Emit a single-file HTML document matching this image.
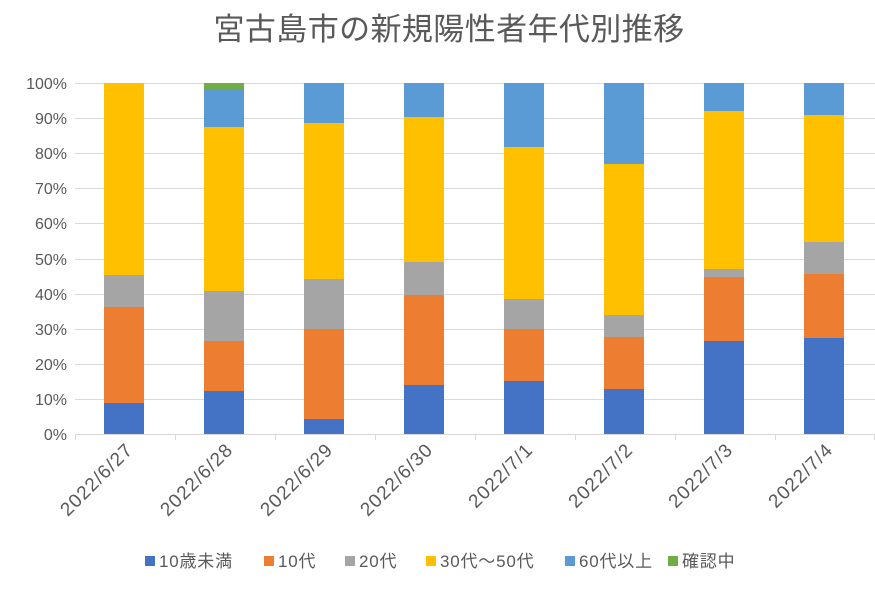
<!DOCTYPE html>
<html><head><meta charset="utf-8"><style>body{margin:0;background:#fff}</style></head>
<body>
<svg width="875" height="587" xmlns="http://www.w3.org/2000/svg" font-family="Liberation Sans, Noto Sans CJK JP, sans-serif">
<rect width="875" height="587" fill="#fff"/>
<text x="449" y="40" font-size="31" fill="#595959" text-anchor="middle" letter-spacing="0.4">宮古島市の新規陽性者年代別推移</text>
<g stroke="#d9d9d9" stroke-width="1">
<line x1="75" x2="875" y1="83.5" y2="83.5"/><line x1="75" x2="875" y1="118.5" y2="118.5"/><line x1="75" x2="875" y1="153.5" y2="153.5"/><line x1="75" x2="875" y1="188.5" y2="188.5"/><line x1="75" x2="875" y1="223.5" y2="223.5"/><line x1="75" x2="875" y1="259.5" y2="259.5"/><line x1="75" x2="875" y1="294.5" y2="294.5"/><line x1="75" x2="875" y1="329.5" y2="329.5"/><line x1="75" x2="875" y1="364.5" y2="364.5"/><line x1="75" x2="875" y1="399.5" y2="399.5"/><line x1="75" x2="875" y1="434.5" y2="434.5"/>
<line x1="75.5" x2="75.5" y1="434" y2="440"/><line x1="175.5" x2="175.5" y1="434" y2="440"/><line x1="275.5" x2="275.5" y1="434" y2="440"/><line x1="375.5" x2="375.5" y1="434" y2="440"/><line x1="475.5" x2="475.5" y1="434" y2="440"/><line x1="575.5" x2="575.5" y1="434" y2="440"/><line x1="675.5" x2="675.5" y1="434" y2="440"/><line x1="775.5" x2="775.5" y1="434" y2="440"/><line x1="874.5" x2="874.5" y1="434" y2="440"/>
</g>
<g font-size="16" fill="#595959" text-anchor="end">
<text x="67" y="89">100%</text><text x="67" y="124">90%</text><text x="67" y="159">80%</text><text x="67" y="194">70%</text><text x="67" y="229">60%</text><text x="67" y="265">50%</text><text x="67" y="300">40%</text><text x="67" y="335">30%</text><text x="67" y="370">20%</text><text x="67" y="405">10%</text><text x="67" y="440">0%</text>
</g>
<g>
<rect x="104" y="403" width="40" height="31" fill="#4472c4"/><rect x="104" y="307" width="40" height="96" fill="#ed7d31"/><rect x="104" y="275" width="40" height="32" fill="#a5a5a5"/><rect x="104" y="83" width="40" height="192" fill="#ffc000"/>
<rect x="204" y="391" width="40" height="43" fill="#4472c4"/><rect x="204" y="341" width="40" height="50" fill="#ed7d31"/><rect x="204" y="291" width="40" height="50" fill="#a5a5a5"/><rect x="204" y="127" width="40" height="164" fill="#ffc000"/><rect x="204" y="89" width="40" height="38" fill="#5b9bd5"/><rect x="204" y="83" width="40" height="6" fill="#70ad47"/>
<rect x="304" y="419" width="40" height="15" fill="#4472c4"/><rect x="304" y="329" width="40" height="90" fill="#ed7d31"/><rect x="304" y="279" width="40" height="50" fill="#a5a5a5"/><rect x="304" y="123" width="40" height="156" fill="#ffc000"/><rect x="304" y="83" width="40" height="40" fill="#5b9bd5"/>
<rect x="404" y="385" width="40" height="49" fill="#4472c4"/><rect x="404" y="295" width="40" height="90" fill="#ed7d31"/><rect x="404" y="262" width="40" height="33" fill="#a5a5a5"/><rect x="404" y="117" width="40" height="145" fill="#ffc000"/><rect x="404" y="83" width="40" height="34" fill="#5b9bd5"/>
<rect x="504" y="381" width="40" height="53" fill="#4472c4"/><rect x="504" y="329" width="40" height="52" fill="#ed7d31"/><rect x="504" y="299" width="40" height="30" fill="#a5a5a5"/><rect x="504" y="147" width="40" height="152" fill="#ffc000"/><rect x="504" y="83" width="40" height="64" fill="#5b9bd5"/>
<rect x="604" y="389" width="40" height="45" fill="#4472c4"/><rect x="604" y="337" width="40" height="52" fill="#ed7d31"/><rect x="604" y="315" width="40" height="22" fill="#a5a5a5"/><rect x="604" y="164" width="40" height="151" fill="#ffc000"/><rect x="604" y="83" width="40" height="81" fill="#5b9bd5"/>
<rect x="704" y="341" width="40" height="93" fill="#4472c4"/><rect x="704" y="277" width="40" height="64" fill="#ed7d31"/><rect x="704" y="269" width="40" height="8" fill="#a5a5a5"/><rect x="704" y="111" width="40" height="158" fill="#ffc000"/><rect x="704" y="83" width="40" height="28" fill="#5b9bd5"/>
<rect x="804" y="338" width="40" height="96" fill="#4472c4"/><rect x="804" y="274" width="40" height="64" fill="#ed7d31"/><rect x="804" y="242" width="40" height="32" fill="#a5a5a5"/><rect x="804" y="115" width="40" height="127" fill="#ffc000"/><rect x="804" y="83" width="40" height="32" fill="#5b9bd5"/>
</g>
<g font-size="19" fill="#595959" text-anchor="end" letter-spacing="1">
<text transform="translate(134,451) rotate(-45)">2022/6/27</text>
<text transform="translate(234,451) rotate(-45)">2022/6/28</text>
<text transform="translate(334,451) rotate(-45)">2022/6/29</text>
<text transform="translate(434,451) rotate(-45)">2022/6/30</text>
<text transform="translate(534,451) rotate(-45)">2022/7/1</text>
<text transform="translate(634,451) rotate(-45)">2022/7/2</text>
<text transform="translate(734,451) rotate(-45)">2022/7/3</text>
<text transform="translate(834,451) rotate(-45)">2022/7/4</text>
</g>
<g font-size="17" fill="#595959" letter-spacing="0.8">
<rect x="145" y="556" width="10" height="10" fill="#4472c4"/><text x="159" y="567">10歳未満</text>
<rect x="264" y="556" width="10" height="10" fill="#ed7d31"/><text x="278" y="567">10代</text>
<rect x="345" y="556" width="10" height="10" fill="#a5a5a5"/><text x="359" y="567">20代</text>
<rect x="426" y="556" width="10" height="10" fill="#ffc000"/><text x="440" y="567">30代～50代</text>
<rect x="565" y="556" width="10" height="10" fill="#5b9bd5"/><text x="579" y="567">60代以上</text>
<rect x="668" y="556" width="10" height="10" fill="#70ad47"/><text x="682" y="567">確認中</text>
</g>
</svg>
</body></html>
